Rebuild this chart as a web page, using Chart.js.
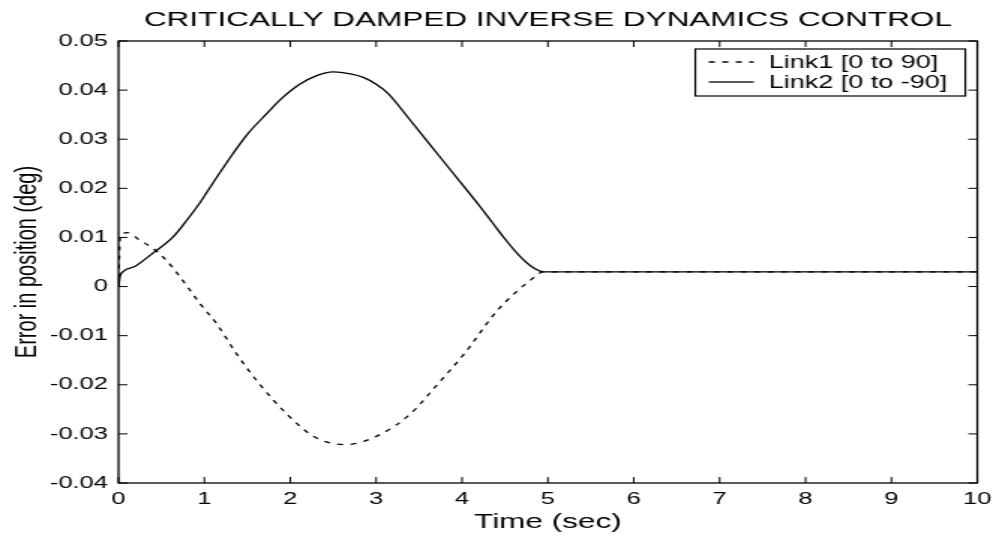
<!DOCTYPE html>
<html>
<head>
<meta charset="utf-8">
<script src="https://cdn.jsdelivr.net/npm/chart.js@4"></script>
<style>
  html, body { margin: 0; padding: 0; background: #fff; overflow: hidden; }
  /* plot is laid out narrow and widened, like the original export */
  #wrap { width: 667px; height: 537px; transform: scaleX(1.5); transform-origin: 0 0; }
</style>
</head>
<body>
<div id="wrap"><canvas id="errChart"></canvas></div>
<script>
const chartTitle = 'CRITICALLY DAMPED INVERSE DYNAMICS CONTROL';
const xTickLabels = ['0', '1', '2', '3', '4', '5', '6', '7', '8', '9', '10'];
const yTickLabels = ['-0.04', '-0.03', '-0.02', '-0.01', '0', '0.01', '0.02', '0.03', '0.04', '0.05'];

// Link1 [0 to 90]
const link1Time = [0, 0.02, 0.1, 0.25, 0.4, 0.56, 0.75, 0.95, 1.14, 1.37, 1.64, 1.98, 2.29, 2.64, 3.06, 3.4, 3.71, 4.03, 4.41, 4.79, 4.95, 10];
const link1Err = [0, 0.0100, 0.0110, 0.0094, 0.0078, 0.0053, 0.0012, -0.0035, -0.0075, -0.0136, -0.0198, -0.0263, -0.0307, -0.0322, -0.0300, -0.0259, -0.0200, -0.0136, -0.0049, 0.0012, 0.0030, 0.0030];

// Link2 [0 to -90]
const link2Time = [0, 0.02, 0.05, 0.2, 0.4, 0.63, 0.8, 0.95, 1.1, 1.33, 1.5, 1.72, 1.9, 2.1, 2.3, 2.5, 2.7, 2.85, 3.0, 3.14, 3.4, 3.71, 4.03, 4.2, 4.35, 4.5, 4.65, 4.8, 4.95, 10];
const link2Err = [0, 0.0022, 0.0030, 0.0042, 0.0068, 0.0100, 0.0136, 0.0171, 0.0211, 0.0270, 0.0310, 0.0351, 0.0383, 0.0411, 0.0429, 0.0437, 0.0433, 0.0426, 0.0412, 0.0393, 0.0338, 0.0271, 0.0202, 0.0165, 0.0131, 0.0097, 0.0066, 0.0042, 0.0030, 0.0030];

const FONT = "'Liberation Sans', Arial, sans-serif";
Chart.defaults.color = '#000';
Chart.defaults.font.family = FONT;

const toPoints = (xs, ys) => xs.map((t, i) => ({ x: t, y: ys[i] }));

// box round the plot, inward ticks on all four sides, boxed legend
const framePlugin = {
    id: 'frame',
    afterDatasetsDraw(chart) {
        const { ctx, chartArea: a, scales: { x, y } } = chart;
        ctx.save();
        ctx.strokeStyle = '#000';
        ctx.lineWidth = 1.3;
        ctx.strokeRect(a.left, a.top, a.right - a.left, a.bottom - a.top);

        ctx.lineWidth = 1;
        ctx.beginPath();
        x.ticks.forEach(t => {
            const px = x.getPixelForValue(t.value);
            ctx.moveTo(px, a.bottom); ctx.lineTo(px, a.bottom - 6);
            ctx.moveTo(px, a.top); ctx.lineTo(px, a.top + 6);
        });
        y.ticks.forEach(t => {
            const py = y.getPixelForValue(t.value);
            ctx.moveTo(a.left, py); ctx.lineTo(a.left + 6, py);
            ctx.moveTo(a.right, py); ctx.lineTo(a.right - 6, py);
        });
        ctx.stroke();

        // legend
        const bw = 180, bh = 47;
        const bx = a.right - 8 - bw, by = a.top + 8;
        ctx.fillStyle = '#fff';
        ctx.fillRect(bx, by, bw, bh);
        ctx.lineWidth = 1.2;
        ctx.strokeRect(bx, by, bw, bh);
        ctx.font = '18px ' + FONT;
        ctx.textBaseline = 'middle';
        ctx.fillStyle = '#000';
        chart.data.datasets.forEach((ds, i) => {
            const ry = by + 13 + i * 20;
            ctx.setLineDash(ds.borderDash || []);
            ctx.lineWidth = ds.borderWidth;
            ctx.beginPath();
            ctx.moveTo(bx + 9, ry); ctx.lineTo(bx + 39, ry);
            ctx.stroke();
            ctx.setLineDash([]);
            ctx.fillText(ds.label, bx + 49, ry + 1);
        });
        ctx.restore();
    }
};

new Chart(document.getElementById('errChart'), {
    type: 'line',
    data: {
        datasets: [
            {
                label: 'Link1 [0 to 90]',
                data: toPoints(link1Time, link1Err),
                borderColor: '#000',
                borderWidth: 1.3,
                borderDash: [4, 5],
                pointRadius: 0,
                cubicInterpolationMode: 'monotone'
            },
            {
                label: 'Link2 [0 to -90]',
                data: toPoints(link2Time, link2Err),
                borderColor: '#000',
                borderWidth: 1.3,
                pointRadius: 0,
                cubicInterpolationMode: 'monotone'
            }
        ]
    },
    options: {
        responsive: true,
        maintainAspectRatio: false,
        animation: false,
        layout: { padding: { left: 0, right: 10, top: 0, bottom: 0 } },
        plugins: {
            legend: { display: false },
            tooltip: { enabled: false },
            title: {
                display: true,
                text: chartTitle,
                fullSize: false,
                color: '#000',
                font: { size: 21, weight: 'normal' },
                padding: { top: 8, bottom: 7.8 }
            }
        },
        scales: {
            x: {
                type: 'linear',
                min: 0,
                max: 10,
                grid: { display: false, drawTicks: false },
                border: { display: false },
                afterBuildTicks: s => { s.ticks = xTickLabels.map(l => ({ value: Number(l) })); },
                afterFit: s => { s.height = 54; },
                ticks: {
                    padding: 6,
                    font: { size: 17 },
                    callback: (v, i) => xTickLabels[i]
                },
                title: {
                    display: true,
                    text: 'Time (sec)',
                    font: { size: 21 },
                    padding: { top: 0, bottom: 2 }
                }
            },
            y: {
                min: -0.04,
                max: 0.05,
                grid: { display: false, drawTicks: false },
                border: { display: false },
                afterBuildTicks: s => { s.ticks = yTickLabels.map(l => ({ value: Number(l) })); },
                afterFit: s => { s.width = 79; },
                ticks: {
                    padding: 7,
                    font: { size: 17 },
                    callback: (v, i) => yTickLabels[i]
                },
                title: {
                    display: true,
                    text: 'Error in position (deg)',
                    font: { size: 20 },
                    padding: { top: 6, bottom: 0 }
                }
            }
        }
    },
    plugins: [framePlugin]
});
</script>
</body>
</html>
